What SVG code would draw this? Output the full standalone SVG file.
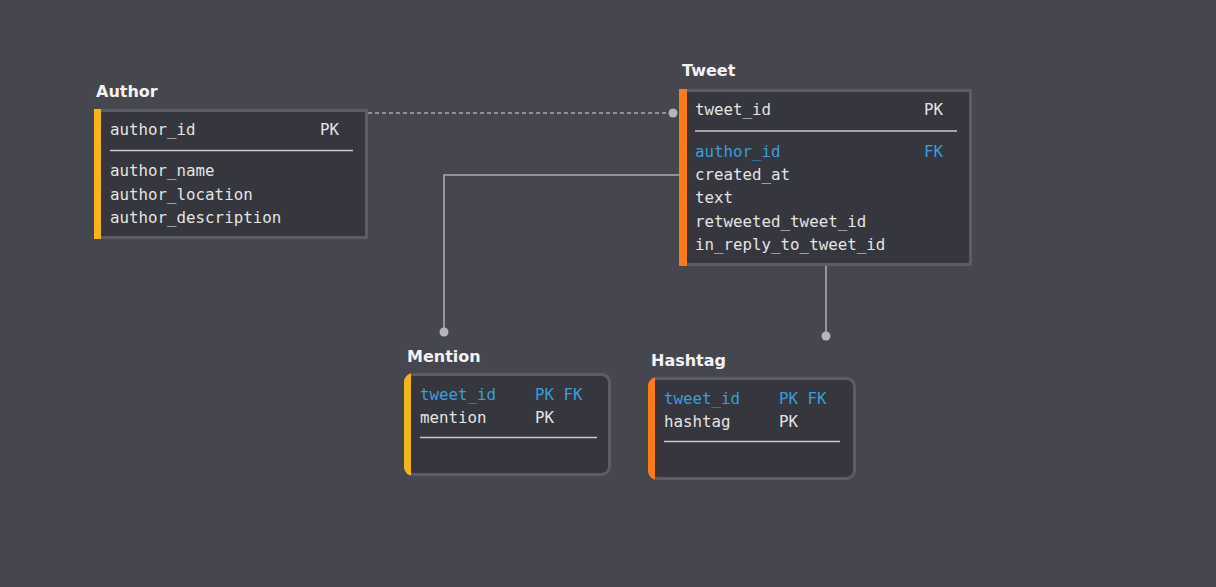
<svg xmlns="http://www.w3.org/2000/svg" width="1216" height="587" viewBox="0 0 1216 587">
<style>
.bg{fill:#46464f}
.box{fill:#36363e;stroke:#5c5c67;stroke-width:3}
.title{font-family:"DejaVu Sans",sans-serif;font-weight:bold;font-size:16px;fill:#f2f2f2}
.f{font-family:"DejaVu Sans Mono",monospace;font-size:15.8px;fill:#e4e4e4}
.k{fill:#3b9ddb}
.sep{stroke:#c8c8cc;stroke-width:1.6}
.conn{stroke:#a9a9b1;stroke-width:1.6;fill:none}
.dot{fill:#b4b4bb}
.yel{fill:#f7b51d}
.org{fill:#fb7c16}
</style>
<defs>
<clipPath id="cm"><rect x="404" y="373" width="207" height="103" rx="9"/></clipPath>
<clipPath id="ch"><rect x="648" y="377" width="208" height="103" rx="9"/></clipPath>
</defs>
<rect class="bg" x="0" y="0" width="1216" height="587"/>
<g id="connectors">
<line class="conn" x1="368" y1="113" x2="673" y2="113" stroke-dasharray="4,3"/>
<circle class="dot" cx="673" cy="113" r="4.5"/>
<polyline class="conn" points="679,175 444,175 444,332"/>
<circle class="dot" cx="444" cy="332" r="4.5"/>
<line class="conn" x1="826" y1="266" x2="826" y2="336"/>
<circle class="dot" cx="826" cy="336" r="4.5"/>
</g>
<g id="author">
<text class="title" x="96" y="97">Author</text>
<rect class="box" x="95.5" y="110.5" width="271" height="127"/>
<rect class="yel" x="94" y="109" width="7" height="130"/>
<text class="f" x="110" y="135">author_id</text>
<text class="f" x="320" y="135">PK</text>
<line class="sep" x1="110" y1="150.5" x2="353" y2="150.5"/>
<text class="f" x="110" y="176">author_name</text>
<text class="f" x="110" y="200">author_location</text>
<text class="f" x="110" y="223">author_description</text>
</g>
<g id="tweet">
<text class="title" x="682" y="76">Tweet</text>
<rect class="box" x="680.5" y="90.5" width="290" height="174"/>
<rect class="org" x="679" y="89" width="8" height="177"/>
<text class="f" x="695" y="115">tweet_id</text>
<text class="f" x="924" y="115">PK</text>
<line class="sep" x1="695" y1="131" x2="957" y2="131"/>
<text class="f k" x="695" y="157">author_id</text>
<text class="f k" x="924" y="157">FK</text>
<text class="f" x="695" y="180">created_at</text>
<text class="f" x="695" y="203">text</text>
<text class="f" x="695" y="227">retweeted_tweet_id</text>
<text class="f" x="695" y="250">in_reply_to_tweet_id</text>
</g>
<g id="mention">
<text class="title" x="407" y="362">Mention</text>
<rect class="box" x="405.5" y="374.5" width="204" height="100" rx="8"/>
<rect class="yel" x="404" y="373" width="7" height="103" clip-path="url(#cm)"/>
<text class="f k" x="420" y="400">tweet_id</text>
<text class="f k" x="535" y="400">PK FK</text>
<text class="f" x="420" y="423">mention</text>
<text class="f" x="535" y="423">PK</text>
<line class="sep" x1="420" y1="437.5" x2="597" y2="437.5"/>
</g>
<g id="hashtag">
<text class="title" x="651" y="366">Hashtag</text>
<rect class="box" x="649.5" y="378.5" width="205" height="100" rx="8"/>
<rect class="org" x="648" y="377" width="7" height="103" clip-path="url(#ch)"/>
<text class="f k" x="664" y="404">tweet_id</text>
<text class="f k" x="779" y="404">PK FK</text>
<text class="f" x="664" y="427">hashtag</text>
<text class="f" x="779" y="427">PK</text>
<line class="sep" x1="664" y1="441.5" x2="840" y2="441.5"/>
</g>
</svg>
